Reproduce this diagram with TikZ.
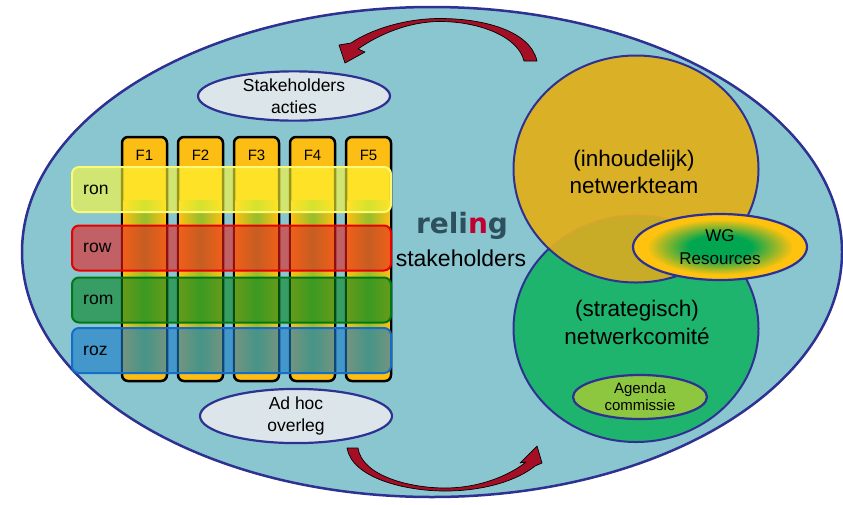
\documentclass[tikz,border=0pt]{standalone}
\usepackage{fontspec}
\setmainfont{Liberation Sans}
\newfontfamily\djv{DejaVu Sans}
\usetikzlibrary{shapes.geometric}
\definecolor{navy}{RGB}{46,49,146}
\definecolor{teal0}{RGB}{138,198,208}
\definecolor{gold0}{RGB}{252,190,20}
\definecolor{colmid}{RGB}{150,190,40}
\definecolor{upgold}{RGB}{218,176,38}
\definecolor{lowgreen}{RGB}{30,180,110}
\definecolor{overlapc}{RGB}{200,172,40}
\definecolor{ovline}{RGB}{225,160,50}
\definecolor{wggreen}{RGB}{0,166,80}
\definecolor{wggold}{RGB}{255,194,14}
\definecolor{agreen}{RGB}{141,198,63}
\definecolor{paleell}{RGB}{220,230,234}
\definecolor{arrowred}{RGB}{165,15,37}
\definecolor{slate}{RGB}{46,80,92}
\definecolor{nred}{RGB}{192,0,48}
\definecolor{ronfill}{RGB}{255,250,52}
\definecolor{ronline}{RGB}{250,250,120}
\definecolor{rowfill}{RGB}{230,30,30}
\definecolor{rowline}{RGB}{230,0,0}
\definecolor{romfill}{RGB}{0,130,30}
\definecolor{romline}{RGB}{0,120,20}
\definecolor{rozfill}{RGB}{20,120,200}
\definecolor{rozline}{RGB}{20,110,200}
\pgfdeclareradialshading{wgshade}{\pgfpoint{0bp}{0bp}}{color(0bp)=(wggreen); color(9bp)=(wggreen); color(21bp)=(wggold); color(50bp)=(wggold)}
\begin{document}
\begin{tikzpicture}[x=1pt,y=-1pt,
  ell/.style={ellipse, draw=navy, line width=2.2pt, inner sep=0pt, align=center},
  colbox/.style={rectangle, rounded corners=6pt, draw=black, line width=2.5pt, fill=gold0, minimum width=45pt, minimum height=244pt, inner sep=0pt},
  rowbox/.style={rectangle, rounded corners=7pt, line width=2pt, minimum width=319pt, minimum height=45pt, inner sep=0pt, fill opacity=0.6},
  flbl/.style={font=\fontsize{15}{18}\selectfont, inner sep=0pt},
  rlbl/.style={font=\fontsize{17.5}{21}\selectfont, inner sep=0pt, anchor=west},
  arrowshape/.style={fill=arrowred, draw=black, line width=0.7pt, line join=round}
]
\useasboundingbox (0,0) rectangle (843,504);
\fill[white] (0,0) rectangle (843,504);
% outer ellipse
\node[ell, fill=teal0, line width=2.5pt, minimum width=820pt, minimum height=490pt] (outer) at (432,252) {};
% curved arrows
\path[arrowshape] (537,61) .. controls (530,30) and (482,18.5) .. (440,18.5) .. controls (404,18.5) and (370,30) .. (351,43) -- (339,45) -- (345,63) -- (365,52) -- (358,49) .. controls (378,35) and (408,21.5) .. (440,21.5) .. controls (478,21.5) and (518,36) .. (524,61) -- cycle;
\path[arrowshape] (347,448) .. controls (352,478) and (405,491) .. (445,491) .. controls (485,491) and (518,480) .. (535,466) -- (542,463) -- (537,446) -- (520,463) -- (526,462) .. controls (510,475) and (480,488) .. (445,488) .. controls (410,488) and (362,476) .. (358,448) -- cycle;
% small ellipses
\node[ell, fill=paleell, minimum width=192pt, minimum height=42pt, font=\fontsize{17.5}{22}\selectfont] (sa) at (294,96) {Stakeholders\\acties};
\node[ell, fill=paleell, minimum width=192pt, minimum height=48pt, font=\fontsize{17.5}{22}\selectfont] (ah) at (296,416) {Ad hoc\\overleg};
% columns
\foreach \i/\x in {1/144.5,2/200.5,3/256.5,4/312.5,5/368.5} {
  \node[colbox] (c\i) at (\x,259) {};
  \shade[left color=gold0, right color=gold0, middle color=colmid] (\x-21,200) rectangle (\x+21,372);
  \node[flbl] (f\i) at (\x,155) {F\i};
}
% rows
\node[rowbox, fill=ronfill, draw=ronline] (ron) at (231.5,189.5) {};
\node[rowbox, fill=rowfill, draw=rowline] (row) at (231.5,248) {};
\node[rowbox, fill=romfill, draw=romline] (rom) at (231.5,300) {};
\node[rowbox, fill=rozfill, draw=rozline] (roz) at (231.5,350.5) {};
\node[rlbl] (ronl) at (83,189.5) {ron};
\node[rlbl] (rowl) at (83,248) {row};
\node[rlbl] (roml) at (83,300) {rom};
\node[rlbl] (rozl) at (83,350.5) {roz};
% centre text
\node[font=\djv\bfseries\fontsize{28}{32}\selectfont, text=slate, inner sep=0pt] (reling) at (462,226) {reli\textcolor{nred}{n}g};
\node[font=\fontsize{23}{27}\selectfont, inner sep=0pt] (stk) at (461,258) {stakeholders};
% right circles
\node[ell, fill=lowgreen, line width=2pt, minimum width=245pt, minimum height=227pt] (low) at (636,328.5) {};
\node[ellipse, fill=upgold, inner sep=0pt, minimum width=245pt, minimum height=227pt] (up) at (636,169) {};
\begin{scope}
  \clip (636,169) ellipse [x radius=122.5pt, y radius=113.5pt];
  \fill[overlapc] (636,328.5) ellipse [x radius=122.5pt, y radius=113.5pt];
  \draw[ovline, line width=1pt] (636,328.5) ellipse [x radius=122.5pt, y radius=113.5pt];
\end{scope}
\draw[navy, line width=2pt] (636,169) ellipse [x radius=122.5pt, y radius=113.5pt];
\node[align=center, font=\fontsize{22.5}{27}\selectfont, inner sep=0pt] (upt) at (634,172) {(inhoudelijk)\\netwerkteam};
\node[align=center, font=\fontsize{22.5}{28}\selectfont, inner sep=0pt] (lowt) at (637,322) {(strategisch)\\netwerkcomit\'e};
% WG resources
\node[ell, shading=wgshade, minimum width=174pt, minimum height=66pt, font=\fontsize{17}{23}\selectfont] (wg) at (720,247) {WG\\Resources};
% Agenda commissie
\node[ell, fill=agreen, minimum width=134pt, minimum height=44pt, font=\fontsize{15}{17}\selectfont] (ag) at (640,397) {Agenda\\commissie};
\end{tikzpicture}
\end{document}
